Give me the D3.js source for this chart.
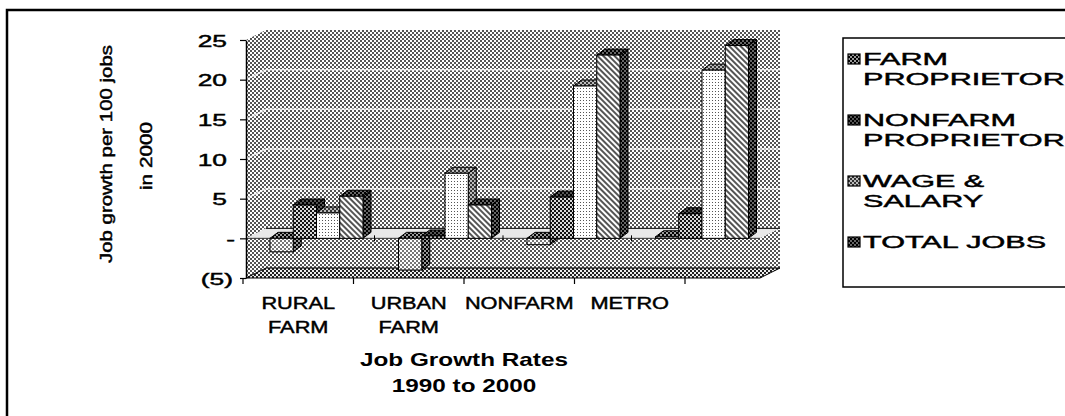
<!DOCTYPE html>
<html lang="en">
<head>
<meta charset="UTF-8">
<title>Job Growth Rates 1990 to 2000</title>
<script src="https://d3js.org/d3.v7.min.js"></script>
<style>
  body { margin: 0; background: #fff; }
  svg { display: block; }
  text { font-family: "Liberation Sans", Arial, sans-serif; fill: #000; }
  .ink { stroke: #000; stroke-width: 0.45px; }
</style>
</head>
<body>
<svg id="chart" width="1065" height="416"></svg>
<script>
const categories = ["RURAL FARM", "URBAN FARM", "NONFARM", "METRO"];
const seriesNames = ["FARM PROPRIETOR", "NONFARM PROPRIETOR", "WAGE & SALARY", "TOTAL JOBS"];
const legendLines = [["FARM", "PROPRIETOR"], ["NONFARM", "PROPRIETOR"], ["WAGE &", "SALARY"], ["TOTAL JOBS"]];
const farmProprietor = [-1.7, -4.0, -0.8, 0.2];
const nonfarmProprietor = [4.2, 0.3, 5.2, 3.1];
const wageSalary = [3.2, 8.2, 19.2, 21.2];
const totalJobs = [5.3, 4.2, 23.1, 24.3];
const yTicks = [-5, 0, 5, 10, 15, 20, 25];
const gridValues = [5, 10, 15, 20];
const yTitle = ["Job growth per 100 jobs", "in 2000"];
const xTitle = ["Job Growth Rates", "1990 to 2000"];

const series = [farmProprietor, nonfarmProprietor, wageSalary, totalJobs];

const svg = d3.select('#chart');
const defs = svg.append('defs');

// the scan is black & white dots, so fake it with small tiles
function pattern(id, size, bg, dots, rotate) {
  const p = defs.append('pattern').attr('id', id)
    .attr('patternUnits', 'userSpaceOnUse')
    .attr('width', size).attr('height', size);
  if (rotate) p.attr('patternTransform', 'rotate(' + rotate + ')');
  p.append('rect').attr('width', size).attr('height', size).attr('fill', bg);
  dots.forEach(d => p.append('rect')
    .attr('x', d[0]).attr('y', d[1]).attr('width', d[2]).attr('height', d[3]).attr('fill', d[4]));
}
const checker = c => [[0, 0, 2, 2, c], [2, 2, 2, 2, c]];
pattern('wall', 4, '#fff', checker('#555'));
pattern('floor', 4, '#eee', checker('#222'));
pattern('farm', 4, '#fff', checker('#777'));
pattern('farmDark', 4, '#999', checker('#000'));
pattern('nonfarm', 4, '#d8d8d8', checker('#111'));
pattern('nonfarmDark', 4, '#555', checker('#000'));
pattern('wage', 3, '#fff', [[1, 1, 1, 1, '#555']]);
pattern('wageDark', 4, '#bbb', checker('#333'));
pattern('total', 4, '#fff', [[0, 0, 4, 2, '#555']], 45);
pattern('totalDark', 4, '#666', checker('#000'));

const fills = [
  { front: 'farm', side: 'farmDark' },
  { front: 'nonfarm', side: 'nonfarmDark' },
  { front: 'wage', side: 'wageDark' },
  { front: 'total', side: 'totalDark' }
];

// outer frame (cut off on right and bottom)
svg.append('rect').attr('x', 7).attr('y', 10).attr('width', 1200).attr('height', 600)
  .attr('fill', 'none').attr('stroke', '#000').attr('stroke-width', 2.5);

const y = d3.scaleLinear().domain([-5, 25]).range([278, 40]);
// bars sit deeper in the box than the labels, so they spread wider
const x0 = d3.scaleBand().domain(categories).range([246, 760]);
const x1 = d3.scaleBand().domain(seriesNames).range([24, 117]);
const xLab = d3.scaleBand().domain(categories).range([243, 685]);
const wall = { dx: 20, dy: -10 };
const bd = { dx: 8, dy: -6 };

const xl = x0.range()[0], xr = x0.range()[1];
const yTop = y(25), yBot = y(-5), y0 = y(0);
const pts = a => a.map(p => p.join(',')).join(' ');

// back + side wall
svg.append('polygon')
  .attr('points', pts([[xl, yTop], [xl + wall.dx, yTop + wall.dy], [xr + wall.dx, yTop + wall.dy],
    [xr + wall.dx, yBot + wall.dy], [xr, yBot], [xl, yBot]]))
  .attr('fill', 'url(#wall)');

// floor
svg.append('polygon')
  .attr('points', pts([[xl, yBot], [xr, yBot], [xr + wall.dx, yBot + wall.dy], [xl + wall.dx, yBot + wall.dy]]))
  .attr('fill', 'url(#floor)').attr('stroke', '#000').attr('stroke-width', 1);

// gridlines, faint white on the wall
svg.append('g').selectAll('path').data(gridValues).enter().append('path')
  .attr('d', v => 'M' + xl + ',' + y(v) + 'L' + (xl + wall.dx) + ',' + (y(v) + wall.dy) + 'L' + (xr + wall.dx) + ',' + (y(v) + wall.dy))
  .attr('fill', 'none').attr('stroke', '#fff').attr('stroke-width', 1.5).attr('opacity', 0.75);

// zero plane
svg.append('polygon')
  .attr('points', pts([[xl, y0], [xr, y0], [xr + wall.dx, y0 + wall.dy], [xl + wall.dx, y0 + wall.dy]]))
  .attr('fill', '#e8e8e8');
svg.append('line').attr('x1', xl + wall.dx).attr('x2', xr + wall.dx)
  .attr('y1', y0 + wall.dy).attr('y2', y0 + wall.dy).attr('stroke', '#000');
svg.append('line').attr('x1', xl).attr('x2', xr)
  .attr('y1', y0).attr('y2', y0).attr('stroke', '#333');
svg.append('g').selectAll('line').data(categories.slice(1)).enter().append('line')
  .attr('x1', c => x0(c)).attr('x2', c => x0(c))
  .attr('y1', y0 - 3).attr('y2', y0 + 3).attr('stroke', '#000');

// bars, left to right so each front face covers the previous side face
const bars = svg.append('g');
categories.forEach((c, i) => {
  series.forEach((s, j) => {
    const v = s[i];
    const x = x0(c) + x1(seriesNames[j]);
    const w = x1.bandwidth();
    const yt = Math.min(y(v), y0), yb = Math.max(y(v), y0);
    const g = bars.append('g').attr('stroke', '#000').attr('stroke-width', 1);
    g.append('polygon')
      .attr('points', pts([[x + w, yt], [x + w + bd.dx, yt + bd.dy], [x + w + bd.dx, yb + bd.dy], [x + w, yb]]))
      .attr('fill', 'url(#' + fills[j].side + ')');
    g.append('polygon')
      .attr('points', pts([[x, yt], [x + w, yt], [x + w + bd.dx, yt + bd.dy], [x + bd.dx, yt + bd.dy]]))
      .attr('fill', 'url(#' + fills[j].side + ')');
    g.append('rect').attr('x', x).attr('y', yt).attr('width', w).attr('height', Math.max(yb - yt, 0.5))
      .attr('fill', 'url(#' + fills[j].front + ')');
  });
});

// value axis
const fmt = d => d < 0 ? '(' + (-d) + ')' : (d === 0 ? '-' : String(d));
const yAxisG = svg.append('g').attr('transform', 'translate(' + xl + ',0)')
  .call(d3.axisLeft(y).tickValues(yTicks).tickSize(6).tickSizeOuter(0).tickFormat(fmt));
yAxisG.select('.domain').attr('stroke-width', 1.5);
yAxisG.selectAll('.tick line').attr('stroke-width', 1.2);
yAxisG.selectAll('.tick text')
  .attr('x', 0).attr('dy', '0.36em').attr('class', 'ink')
  .attr('transform', d => 'translate(' + (d < 0 ? -13 : d === 0 ? -11 : -19) + ',0) scale(1.55,1)')
  .style('font-size', '17px').style('font-family', '"Liberation Sans", Arial, sans-serif');

// category ticks under the floor
const bounds = categories.map(c => xLab(c)).concat([xLab.range()[1]]);
svg.append('g').selectAll('line').data(bounds).enter().append('line')
  .attr('x1', d => d).attr('x2', d => d).attr('y1', yBot).attr('y2', yBot + 6)
  .attr('stroke', '#000').attr('stroke-width', 1.2);

// category labels
const catG = svg.append('g');
categories.forEach(c => {
  c.split(' ').forEach((line, k) => {
    catG.append('text').attr('class', 'ink')
      .attr('transform', 'translate(' + (xLab(c) + xLab.bandwidth() / 2) + ',' + (309 + k * 24) + ') scale(1.28,1)')
      .attr('text-anchor', 'middle').style('font-size', '17px').text(line);
  });
});

// category title
const titleX = (xLab.range()[0] + xLab.range()[1]) / 2;
xTitle.forEach((line, k) => {
  svg.append('text')
    .attr('transform', 'translate(' + titleX + ',' + (366 + k * 26) + ') scale(1.28,1)')
    .attr('text-anchor', 'middle').style('font-size', '19px').style('font-weight', 'bold').text(line);
});

// value title, rotated
const yTitlePos = [[111.5, 154, 218], [152, 156, 68]];
yTitle.forEach((line, k) => {
  svg.append('text').attr('class', 'ink')
    .attr('transform', 'translate(' + yTitlePos[k][0] + ',' + yTitlePos[k][1] + ') rotate(-90)')
    .attr('text-anchor', 'middle').style('font-size', '16px')
    .attr('textLength', yTitlePos[k][2]).attr('lengthAdjust', 'spacingAndGlyphs')
    .text(line);
});

// legend
const legend = svg.append('g');
legend.append('rect').attr('x', 843).attr('y', 38).attr('width', 300).attr('height', 249)
  .attr('fill', '#fff').attr('stroke', '#000').attr('stroke-width', 1.5);
legendLines.forEach((lines, i) => {
  const base = 65 + i * 61;
  legend.append('rect').attr('x', 848).attr('y', base - 11).attr('width', 12).attr('height', 10)
    .attr('fill', 'url(#' + fills[i].side + ')').attr('stroke', '#000').attr('stroke-width', 1.2);
  lines.forEach((line, k) => {
    legend.append('text').attr('class', 'ink')
      .attr('transform', 'translate(863,' + (base + k * 20) + ') scale(1.8,1)')
      .style('font-size', '17px').text(line);
  });
});
</script>
</body>
</html>
